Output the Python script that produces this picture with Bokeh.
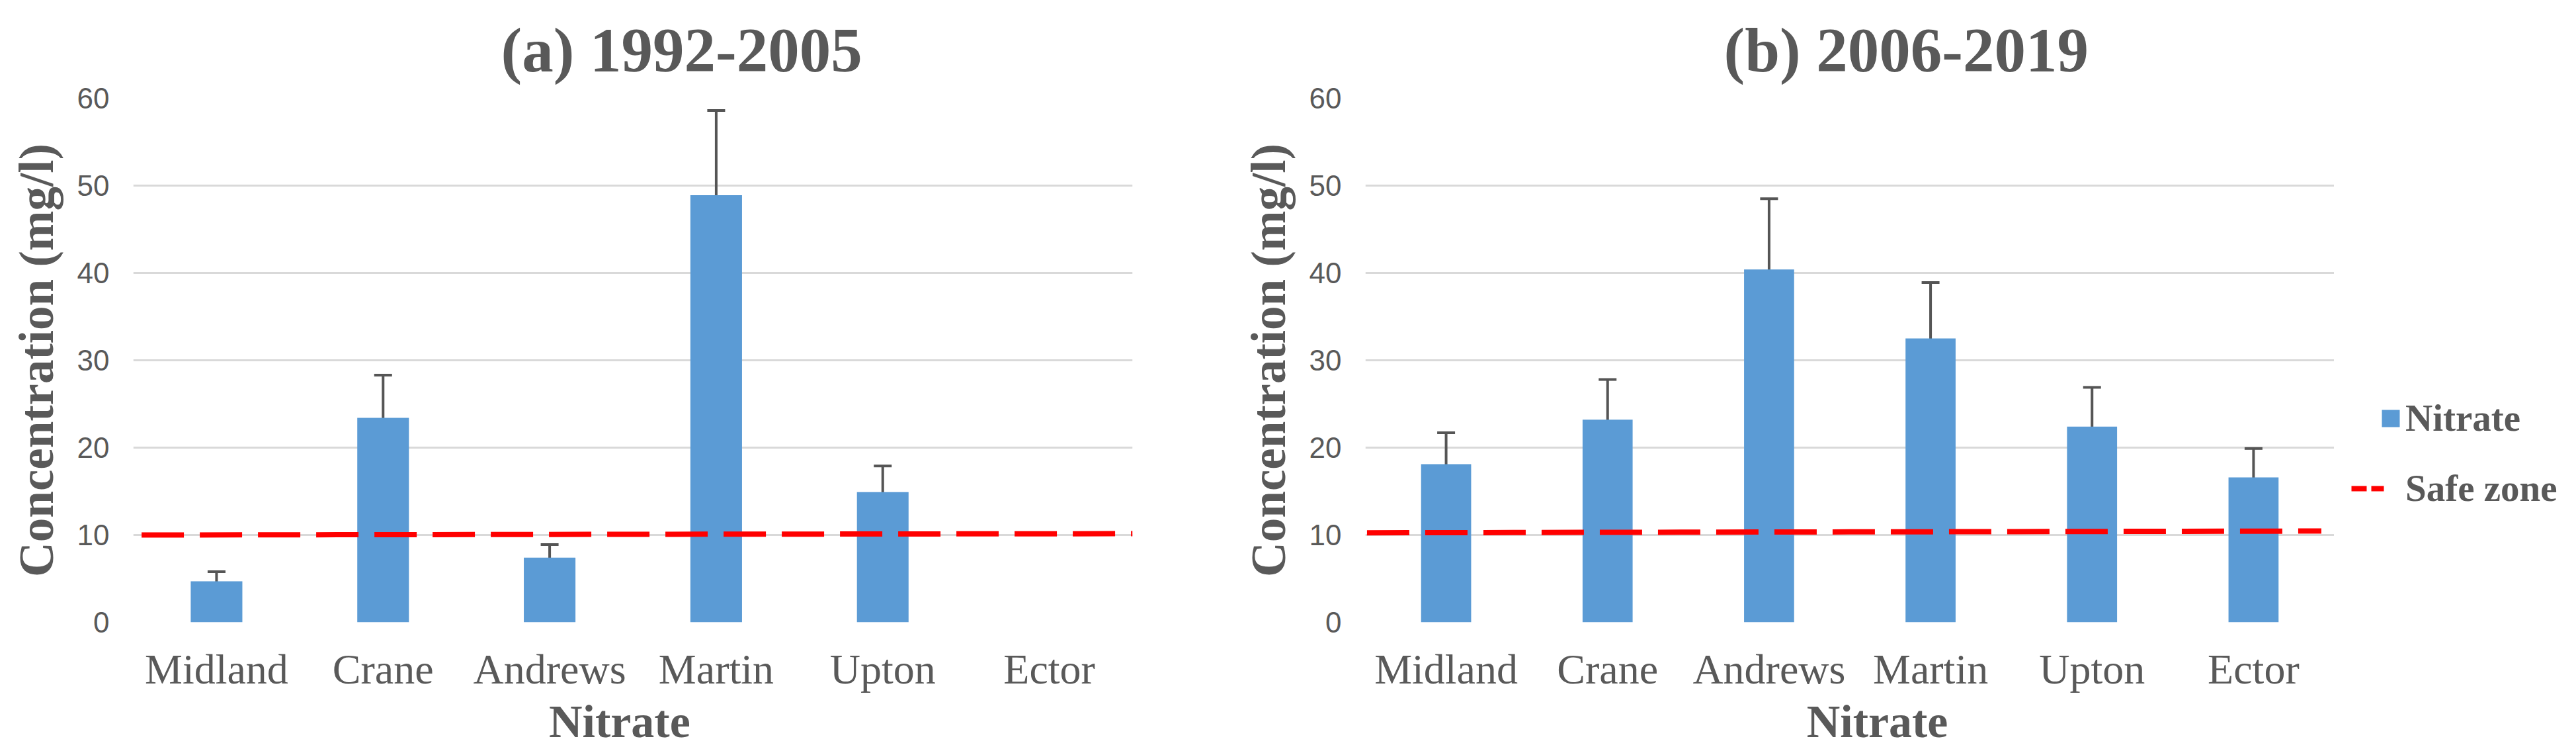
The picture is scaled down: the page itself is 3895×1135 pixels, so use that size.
from bokeh.plotting import figure
from bokeh.models import (ColumnDataSource, Whisker, TeeHead, Legend, LegendItem,
                          FixedTicker, Range1d, Spacer)
from bokeh.layouts import row, column
from bokeh.embed import file_html
from bokeh.resources import INLINE
from bokeh.core.properties import value

# ---------------- data ----------------
counties = ["Midland", "Crane", "Andrews", "Martin", "Upton", "Ector"]

nitrate_a = [4.7, 23.4, 7.4, 48.9, 14.9, None]      # 1992-2005 (no Ector value)
err_a     = [1.1, 4.9, 1.5, 9.7, 3.0, None]

nitrate_b = [18.1, 23.2, 40.4, 32.5, 22.4, 16.6]    # 2006-2019
err_b     = [3.6, 4.6, 8.1, 6.4, 4.5, 3.3]

safe_a_x = [0.05, 6.0]
safe_a_y = [10.0, 10.15]
safe_b_x = [0.01, 5.92]
safe_b_y = [10.25, 10.45]

y_ticks = [0, 10, 20, 30, 40, 50, 60]

titles = ["(a) 1992-2005", "(b) 2006-2019"]
x_title = "Nitrate"
y_title = "Concentration (mg/l)"
legend_labels = ["Nitrate", "Safe zone"]

# ---------------- style ----------------
BAR = "#5B9BD5"
TXT = "#595959"
GRID = "#D9D9D9"
ERR = "#555555"
SERIF = "Liberation Serif"
SANS = "Liberation Sans"
FRAME_H = 792
MB_TOP = 137
MB_BOTTOM = 30
H_FOOT = 1119 - MB_TOP - FRAME_H - MB_BOTTOM     # 160


def make_panel(title, vals, errs, sx, sy, frame_w, mb_left, mb_right, title_offset, xt_pos):
    p = figure(x_range=counties, y_range=Range1d(0, 60),
               frame_width=frame_w, frame_height=FRAME_H,
               output_backend="svg", toolbar_location=None,
               x_axis_location=None,
               min_border_left=mb_left, min_border_right=mb_right,
               min_border_top=MB_TOP, min_border_bottom=MB_BOTTOM)
    p.outline_line_color = None
    p.background_fill_color = "white"
    p.border_fill_color = "white"

    cats = [c for c, v in zip(counties, vals) if v is not None]
    tops = [v for v in vals if v is not None]
    es = [e for e in errs if e is not None]
    src = ColumnDataSource(dict(x=cats, top=tops,
                                upper=[t + e for t, e in zip(tops, es)],
                                lower=[t - e for t, e in zip(tops, es)]))
    p.vbar(x="x", top="top", width=0.31, source=src, fill_color=BAR, line_color=None)
    w = Whisker(base="x", upper="upper", lower="lower", source=src,
                line_color=ERR, line_width=4,
                upper_head=TeeHead(size=27, line_color=ERR, line_width=4),
                lower_head=TeeHead(size=27, line_color=ERR, line_width=4))
    p.add_layout(w)

    p.line(x=sx, y=sy, line_color="#FF0000", line_width=8, line_dash="64 24")

    # title
    p.title.text = title
    p.title.text_font = SERIF
    p.title.text_font_style = "bold"
    p.title.text_font_size = "95px"
    p.title.text_color = TXT
    p.title.align = "left"
    p.title.offset = title_offset
    p.title.standoff = 40

    # y axis
    p.yaxis.ticker = FixedTicker(ticks=y_ticks)
    p.yaxis.axis_line_color = None
    p.yaxis.major_tick_line_color = None
    p.yaxis.minor_tick_line_color = None
    p.yaxis.major_tick_out = 0
    p.yaxis.major_tick_in = 0
    p.yaxis.major_label_text_font = SANS
    p.yaxis.major_label_text_font_size = "44px"
    p.yaxis.major_label_text_color = TXT
    p.yaxis.major_label_standoff = 36
    p.yaxis.axis_label = y_title
    p.yaxis.axis_label_text_font = SERIF
    p.yaxis.axis_label_text_font_style = "bold"
    p.yaxis.axis_label_text_font_size = "73px"
    p.yaxis.axis_label_text_color = TXT
    p.yaxis.axis_label_standoff = 18

    p.xgrid.grid_line_color = None
    p.ygrid.grid_line_color = GRID
    p.ygrid.grid_line_width = 3

    # strip below the chart: category names and x-axis title on the shared category scale
    f = figure(x_range=p.x_range, y_range=Range1d(0, H_FOOT), title=None,
               frame_width=frame_w, frame_height=H_FOOT,
               output_backend="svg", toolbar_location=None,
               x_axis_location=None, y_axis_location=None,
               min_border_left=mb_left, min_border_right=mb_right,
               min_border_top=0, min_border_bottom=0)
    f.outline_line_color = None
    f.grid.visible = False
    f.text(x=counties, y=[119] * len(counties), text=counties, text_align="center",
           text_baseline="middle", text_font=value(SERIF),
           text_font_size="64px", text_color=TXT)
    f.text(x=[xt_pos], y=[40], text=[x_title], text_align="center",
           text_baseline="middle", text_font=value(SERIF),
           text_font_style="bold", text_font_size="70px", text_color=TXT)
    return column(p, f)


col_a = make_panel(titles[0], nitrate_a, err_a, safe_a_x, safe_a_y, 1511, 201, 80, 556, 2.92)
col_b = make_panel(titles[1], nitrate_b, err_b, safe_b_x, safe_b_y, 1465, 272, 0, 542, 3.17)

# ---------------- legend area (own figure to the right) ----------------
pl = figure(frame_width=350, frame_height=FRAME_H, x_range=Range1d(0, 1), y_range=Range1d(0, 1),
            title=None, output_backend="svg", toolbar_location=None,
            x_axis_location=None, y_axis_location=None,
            min_border_left=0, min_border_right=0,
            min_border_top=MB_TOP, min_border_bottom=MB_BOTTOM)
pl.grid.visible = False
pl.outline_line_color = None
nan = float("nan")
# legend samples: a 27px blue square and a short red dashed stroke
leg_bar = pl.line(x=[nan], y=[nan], line_color=BAR, line_width=26, line_cap="butt",
                  line_dash="0 46 27 200")
leg_line = pl.line(x=[nan], y=[nan], line_color="#FF0000", line_width=8, line_cap="butt",
                   line_dash="23 7 19 200")

legend = Legend(items=[LegendItem(label=legend_labels[0], renderers=[leg_bar]),
                       LegendItem(label=legend_labels[1], renderers=[leg_line])],
                location=(26, 159), orientation="vertical",
                glyph_width=74, glyph_height=40, label_standoff=8, spacing=41,
                padding=0, margin=0, border_line_color=None,
                background_fill_alpha=0,
                label_text_font=SERIF, label_text_font_style="bold",
                label_text_font_size="57px", label_text_color=TXT)
pl.add_layout(legend, "center")

layout = row(col_a, col_b, column(pl, Spacer(width=350, height=H_FOOT)))
open("out.html", "w").write(file_html(layout, INLINE))
